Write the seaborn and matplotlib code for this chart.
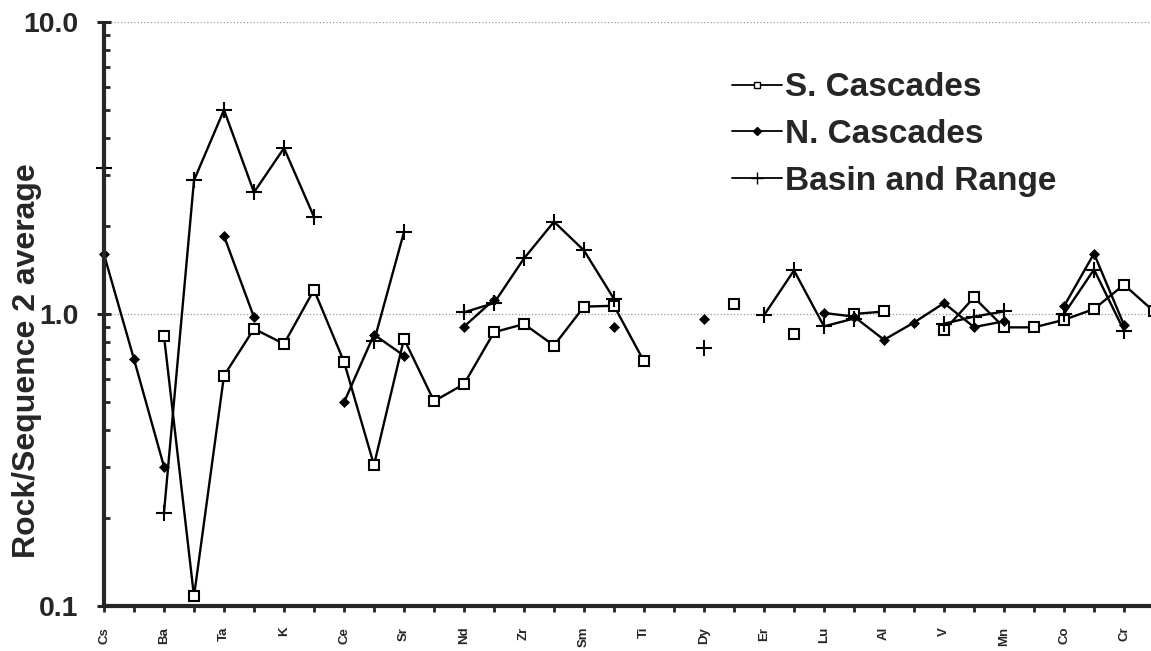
import numpy as np
import pandas as pd
import seaborn as sns
import matplotlib
matplotlib.use("Agg")
from matplotlib import pyplot as plt
from matplotlib.lines import Line2D
from matplotlib.ticker import LogLocator, NullFormatter

nan = np.nan

# only every other category carries a label on the original axis
tick_labels = ["Cs", "", "Ba", "", "Ta", "", "K", "", "Ce", "", "Sr", "", "Nd", "",
               "Zr", "", "Sm", "", "Ti", "", "Dy", "", "Er", "", "Lu", "", "Al", "",
               "V", "", "Mn", "", "Co", "", "Cr", ""]

s_cascades = [nan, nan, 0.84, 0.108, 0.615, 0.89, 0.79, 1.21, 0.686, 0.304, 0.822, 0.503,
              0.575, 0.866, 0.924, 0.78, 1.06, 1.067, 0.688, nan, nan, 1.085, nan, 0.855,
              nan, 1.0, 1.02, nan, 0.878, 1.14, 0.90, 0.90, 0.955, 1.04, 1.26, 1.02]

n_cascades = [1.60, 0.70, 0.30, nan, 1.85, 0.975, nan, nan, 0.498, 0.85, 0.72, nan,
              0.905, 1.12, nan, nan, nan, 0.905, nan, nan, 0.963, nan, nan, nan,
              1.008, 0.98, 0.816, 0.935, 1.09, 0.902, 0.944, nan, 1.063, 1.61, 0.917, nan]

basin_range = [3.16, nan, 0.209, 2.87, 5.0, 2.61, 3.70, 2.15, nan, 0.806, 1.91, nan,
               1.013, 1.09, 1.55, 2.07, 1.65, 1.126, nan, nan, 0.764, nan, 0.99, 1.41,
               0.907, 0.965, nan, nan, 0.926, 0.98, 1.02, nan, 1.0, 1.42, 0.877, nan]

series_names = ["S. Cascades", "N. Cascades", "Basin and Range"]


def to_segments(values):
    """long frame, a new segment id after every gap so lines break at missing values"""
    df = pd.DataFrame({"pos": np.arange(len(values)), "value": values})
    df["seg"] = df["value"].isna().cumsum()
    return df.dropna()


sns.set_style("ticks")
plt.rcParams["font.family"] = ["Liberation Sans", "DejaVu Sans"]
plt.rcParams["font.weight"] = "bold"

fig = plt.figure(figsize=(11.51, 6.51), dpi=100)
ax = fig.add_axes([104 / 1151, 45 / 651, 1050 / 1151, 584 / 651])

styles = [
    dict(marker="s", markersize=6.8, markerfacecolor="white", markeredgecolor="black", markeredgewidth=1.5),
    dict(marker="D", markersize=5.5, markerfacecolor="black", markeredgecolor="black", markeredgewidth=0.5),
    dict(marker="+", markersize=12, markeredgecolor="black", markeredgewidth=1.5),
]

for values, st in zip([s_cascades, n_cascades, basin_range], styles):
    seg = to_segments(values)
    sns.lineplot(data=seg, x="pos", y="value", units="seg", estimator=None, sort=False,
                 color="black", linewidth=1.7, ax=ax, legend=False, clip_on=False, **st)

ax.set_yscale("log")
ax.set_ylim(0.1, 10)
ax.set_xlim(0, len(tick_labels) - 1)

ax.set_yticks([0.1, 1, 10])
ax.set_yticklabels(["0.1", "1.0", "10.0"], fontsize=20.5, fontweight="bold")
ax.yaxis.set_minor_locator(LogLocator(base=10, subs=np.arange(2, 10)))
ax.yaxis.set_minor_formatter(NullFormatter())

ax.set_xticks(np.arange(len(tick_labels)))
ax.set_xticklabels(tick_labels, rotation=90, fontsize=9.5, fontweight="bold")

ax.tick_params(axis="y", which="major", direction="inout", length=10, width=2.2, pad=13.5)
ax.tick_params(axis="y", which="minor", direction="in", length=4.5, width=2)
ax.tick_params(axis="x", which="major", direction="out", length=4, width=2, pad=11)

ax.yaxis.grid(True, which="major", linestyle=":", color="#999999", linewidth=0.9)
ax.set_axisbelow(True)

for side in ["top", "right"]:
    ax.spines[side].set_visible(False)
for side in ["left", "bottom"]:
    ax.spines[side].set_linewidth(3)
    ax.spines[side].set_capstyle("butt")

ax.set_xlabel("")
ax.set_ylabel("Rock/Sequence 2 average", fontsize=23, fontweight="bold")
ax.yaxis.set_label_coords(-0.059, 0.42)

# legend handles drawn with smaller markers, as in the original
handles = [
    Line2D([], [], color="black", linewidth=1.3, marker="s", markersize=4,
           markerfacecolor="white", markeredgecolor="black", markeredgewidth=1),
    Line2D([], [], color="black", linewidth=1.3, marker="D", markersize=4,
           markerfacecolor="black", markeredgecolor="black"),
    Line2D([], [], color="black", linewidth=1.3, marker="+", markersize=8,
           markeredgecolor="black", markeredgewidth=1),
]
leg = ax.legend(handles, series_names, loc="upper left", bbox_to_anchor=(0.598, 0.914),
                frameon=False, borderpad=0, borderaxespad=0, handlelength=1.5,
                handletextpad=0.1, labelspacing=0.47, prop={"size": 24, "weight": "bold"})

fig.savefig("out.png", dpi=100)
